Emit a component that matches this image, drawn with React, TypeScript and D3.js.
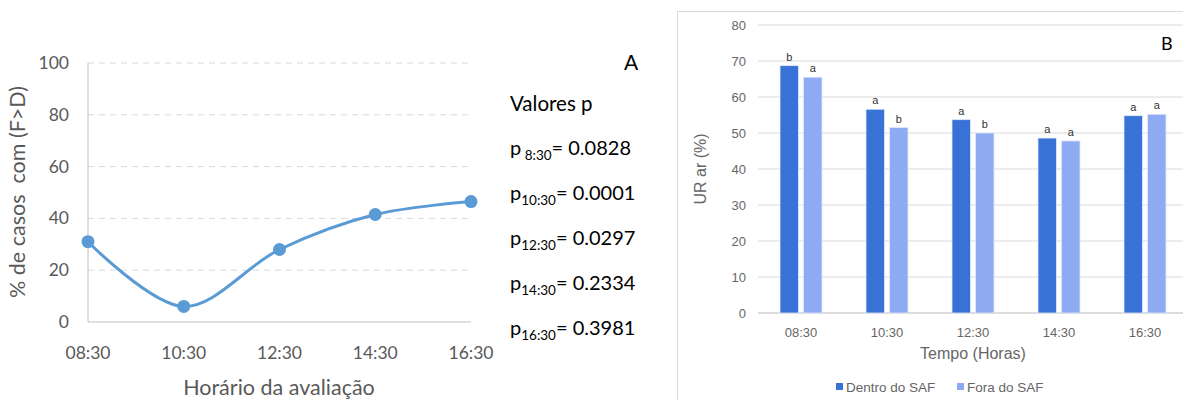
import React, { useEffect, useRef } from "react";
import * as d3 from "d3";

// panel A
const horas = ["08:30", "10:30", "12:30", "14:30", "16:30"];
const casosFD = [31, 6, 28, 41.5, 46.5];
const ticksA = [0, 20, 40, 60, 80, 100];
const pLabels = ["8:30", "10:30", "12:30", "14:30", "16:30"];
const pValues = ["0.0828", "0.0001", "0.0297", "0.2334", "0.3981"];

// panel B
const tempos = ["08:30", "10:30", "12:30", "14:30", "16:30"];
const series = ["Dentro do SAF", "Fora do SAF"];
const dentro = [68.7, 56.6, 53.7, 48.6, 54.8];
const fora = [65.5, 51.5, 50.0, 47.8, 55.2];
const letrasDentro = ["b", "a", "a", "a", "a"];
const letrasFora = ["a", "b", "b", "a", "a"];
const ticksB = [0, 10, 20, 30, 40, 50, 60, 70, 80];

const CAL = "Lato, 'Open Sans', sans-serif";
const ARIAL = "'Liberation Sans', Arial, sans-serif";

export default function App() {
  const ref = useRef<HTMLDivElement | null>(null);

  useEffect(() => {
    if (!ref.current) return;
    d3.select(ref.current).selectAll("svg").remove();

    const svg = d3
      .select(ref.current)
      .append("svg")
      .attr("width", 1183)
      .attr("height", 400)
      .style("position", "absolute")
      .style("left", "0px")
      .style("top", "0px")
      .style("background", "#fff");

    // ---------- Panel A ----------
    const xA = d3.scalePoint<string>().domain(horas).range([88, 471]);
    const yA = d3.scaleLinear().domain([0, 100]).range([322, 63]);

    const gA = svg.append("g");
    gA.selectAll("line.grid")
      .data(ticksA.filter((t) => t > 0))
      .enter()
      .append("line")
      .attr("x1", 88)
      .attr("x2", 471)
      .attr("y1", (d) => yA(d))
      .attr("y2", (d) => yA(d))
      .attr("stroke", "#d9d9d9")
      .attr("stroke-dasharray", "6,5")
      .attr("stroke-width", 1);

    gA.append("line")
      .attr("x1", 88).attr("x2", 88)
      .attr("y1", yA(100)).attr("y2", yA(0))
      .attr("stroke", "#bfbfbf");
    gA.append("line")
      .attr("x1", 88).attr("x2", 471)
      .attr("y1", yA(0)).attr("y2", yA(0))
      .attr("stroke", "#bfbfbf");

    gA.selectAll("text.ytA")
      .data(ticksA)
      .enter()
      .append("text")
      .attr("x", 69)
      .attr("y", (d) => yA(d) + 6)
      .attr("text-anchor", "end")
      .attr("font-family", CAL)
      .attr("font-size", 17.5)
      .attr("fill", "#595959")
      .text((d) => d);

    gA.selectAll("text.xtA")
      .data(horas)
      .enter()
      .append("text")
      .attr("x", (d) => xA(d)!)
      .attr("y", 359)
      .attr("text-anchor", "middle")
      .attr("font-family", CAL)
      .attr("font-size", 17.5)
      .attr("fill", "#595959")
      .text((d) => d);

    gA.append("text")
      .attr("x", 279)
      .attr("y", 395)
      .attr("text-anchor", "middle")
      .attr("font-family", CAL)
      .attr("font-size", 21.5)
      .attr("fill", "#595959")
      .text("Horário da avaliação");

    gA.append("text")
      .attr("transform", "translate(25,192) rotate(-90)")
      .attr("text-anchor", "middle")
      .attr("font-family", CAL)
      .attr("font-size", 21.5)
      .attr("fill", "#595959")
      .attr("xml:space", "preserve")
      .style("white-space", "pre")
      .text("% de casos  com (F>D)");

    const line = d3
      .line<number>()
      .x((d, i) => xA(horas[i])!)
      .y((d) => yA(d))
      .curve(d3.curveCatmullRom.alpha(0.5));

    gA.append("path")
      .datum(casosFD)
      .attr("d", line)
      .attr("fill", "none")
      .attr("stroke", "#5b9bd5")
      .attr("stroke-width", 3);

    gA.selectAll("circle")
      .data(casosFD)
      .enter()
      .append("circle")
      .attr("cx", (d, i) => xA(horas[i])!)
      .attr("cy", (d) => yA(d))
      .attr("r", 6.5)
      .attr("fill", "#5b9bd5");

    gA.append("text")
      .attr("x", 624)
      .attr("y", 70)
      .attr("font-family", CAL)
      .attr("font-size", 21)
      .attr("fill", "#000")
      .text("A");

    gA.append("text")
      .attr("x", 510)
      .attr("y", 111)
      .attr("font-family", CAL)
      .attr("font-size", 20.5)
      .attr("fill", "#000")
      .text("Valores p");

    const pText = gA
      .selectAll("text.pv")
      .data(pValues)
      .enter()
      .append("text")
      .attr("x", 510)
      .attr("y", (d, i) => 155 + i * 45)
      .attr("font-family", CAL)
      .attr("font-size", 20)
      .attr("fill", "#000")
      .attr("xml:space", "preserve");
    pText.append("tspan").text("p");
    pText
      .append("tspan")
      .attr("dy", 5)
      .attr("font-size", 13.5)
      .text((d, i) => (i === 0 ? " " : "") + pLabels[i]);
    pText
      .append("tspan")
      .attr("dy", -5)
      .text((d) => "= " + d);

    // ---------- Panel B ----------
    const gB = svg.append("g");
    gB.append("rect")
      .attr("x", 677.5)
      .attr("y", 11.5)
      .attr("width", 520)
      .attr("height", 400)
      .attr("fill", "#fff")
      .attr("stroke", "#d9d9d9");

    const x0 = d3.scaleBand<string>().domain(tempos).range([758, 1188]);
    const x1 = d3.scaleBand<string>().domain(series).range([22, 64]).paddingInner(0.22);
    const yB = d3.scaleLinear().domain([0, 80]).range([313, 25]);

    gB.selectAll("line.gridB")
      .data(ticksB)
      .enter()
      .append("line")
      .attr("x1", 758)
      .attr("x2", 1183)
      .attr("y1", (d) => yB(d))
      .attr("y2", (d) => yB(d))
      .attr("stroke", (d) => (d === 0 ? "#d0d0d0" : "#e6e6e6"))
      .attr("stroke-width", 1.5);

    gB.selectAll("text.ytB")
      .data(ticksB)
      .enter()
      .append("text")
      .attr("x", 746)
      .attr("y", (d) => yB(d) + 5)
      .attr("text-anchor", "end")
      .attr("font-family", ARIAL)
      .attr("font-size", 13)
      .attr("fill", "#666")
      .text((d) => d);

    const dados = [dentro, fora];
    const letras = [letrasDentro, letrasFora];
    const cores = ["#3872d6", "#8eaaf3"];

    series.forEach((s, si) => {
      const grp = gB.append("g");
      grp.selectAll("rect")
        .data(dados[si])
        .enter()
        .append("rect")
        .attr("x", (d, i) => x0(tempos[i])! + x1(s)!)
        .attr("y", (d) => yB(d))
        .attr("width", x1.bandwidth())
        .attr("height", (d) => yB(0) - yB(d))
        .attr("fill", cores[si])
        .attr("stroke", "#dfe8fb")
        .attr("stroke-width", 0.8);
      grp.selectAll("text")
        .data(dados[si])
        .enter()
        .append("text")
        .attr("x", (d, i) => x0(tempos[i])! + x1(s)! + x1.bandwidth() / 2)
        .attr("y", (d) => yB(d) - 5)
        .attr("text-anchor", "middle")
        .attr("font-family", ARIAL)
        .attr("font-size", 11)
        .attr("fill", "#333")
        .text((d, i) => letras[si][i]);
    });

    gB.selectAll("text.xtB")
      .data(tempos)
      .enter()
      .append("text")
      .attr("x", (d) => x0(d)! + x0.bandwidth() / 2)
      .attr("y", 337)
      .attr("text-anchor", "middle")
      .attr("font-family", ARIAL)
      .attr("font-size", 13)
      .attr("fill", "#666")
      .text((d) => d);

    gB.append("text")
      .attr("x", 973)
      .attr("y", 359)
      .attr("text-anchor", "middle")
      .attr("font-family", ARIAL)
      .attr("font-size", 16)
      .attr("fill", "#666")
      .text("Tempo (Horas)");

    gB.append("text")
      .attr("transform", "translate(706,169) rotate(-90)")
      .attr("text-anchor", "middle")
      .attr("font-family", ARIAL)
      .attr("font-size", 16)
      .attr("fill", "#666")
      .text("UR ar (%)");

    gB.append("text")
      .attr("x", 1161)
      .attr("y", 50)
      .attr("font-family", CAL)
      .attr("font-size", 18)
      .attr("fill", "#000")
      .text("B");

    const legX = [836, 957];
    series.forEach((s, si) => {
      gB.append("rect")
        .attr("x", legX[si])
        .attr("y", 383)
        .attr("width", 7)
        .attr("height", 7)
        .attr("fill", cores[si]);
      gB.append("text")
        .attr("x", legX[si] + 10)
        .attr("y", 392)
        .attr("font-family", ARIAL)
        .attr("font-size", 13.5)
        .attr("fill", "#666")
        .text(s);
    });
  });

  return <div ref={ref}></div>;
}
